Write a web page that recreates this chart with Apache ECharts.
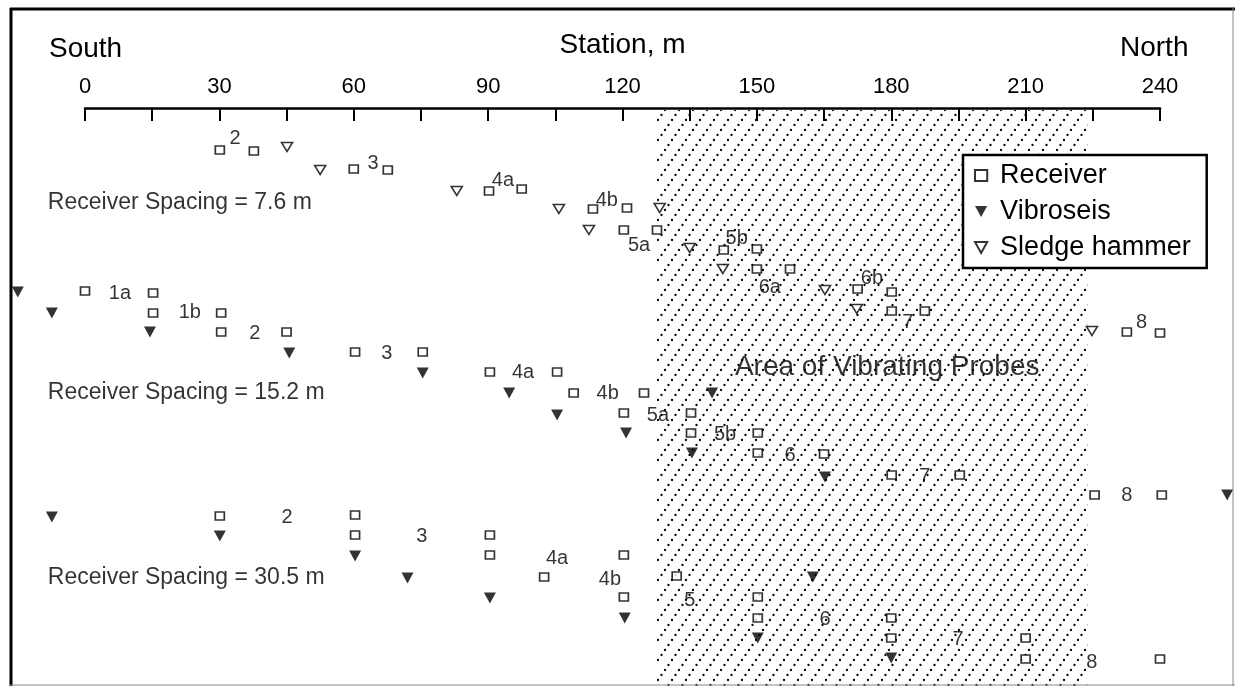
<!DOCTYPE html>
<html><head><meta charset="utf-8">
<script src="https://cdn.jsdelivr.net/npm/echarts@6/dist/echarts.min.js"></script>
<style>html,body{margin:0;padding:0;background:#fff}#c{width:1235px;height:686px}</style>
</head><body><div id="c"></div>
<script>
// ---- axis ----
const stationMin = 0, stationMax = 240, tickStep = 15, labelStep = 30;
const rowMax = 28.9; // schematic row units (vertical offsets of shot gathers)

// ---- Receiver spacing 7.6 m : [station m, row] ----
const receivers76 = [[30.1,2.1],[37.7,2.15],[60,3.05],[67.6,3.1],[90.2,4.15],[97.5,4.05],[113.4,5.05],[121,5.0],
  [120.3,6.1],[127.7,6.1],[142.6,7.1],[150,7.05],[150,8.05],[157.4,8.05],[172.5,9.05],[180.1,9.2],
  [180.1,10.15],[187.5,10.15],[232.6,11.2],[240,11.25]];
const sledge76 = [[45.1,1.95],[52.5,3.1],[83,4.15],[105.8,5.05],[128.3,5.0],[112.5,6.1],[135,7.0],[142.4,8.05],
  [165.2,9.1],[172.3,10.05],[224.8,11.15]];
const labels76 = [[33.5,1.5,'2'],[64.3,2.75,'3'],[93.3,3.6,'4a'],[116.5,4.6,'4b'],[123.7,6.85,'5a'],[145.5,6.5,'5b'],
  [152.9,8.95,'6a'],[175.7,8.5,'6b'],[183.7,10.7,'7'],[235.9,10.7,'8']];

// ---- Receiver spacing 15.2 m ----
const receivers152 = [[0,9.15],[15.2,9.25],[15.2,10.25],[30.4,10.25],[30.4,11.2],[45,11.2],[60.3,12.2],[75.4,12.2],
  [90.4,13.2],[105.4,13.2],[109.1,14.25],[124.8,14.25],[120.3,15.25],[135.3,15.25],[135.3,16.25],[150.2,16.25],
  [150.2,17.25],[165,17.3],[180.1,18.35],[195.3,18.35],[225.4,19.35],[240.4,19.35]];
const vibro152 = [[-15,9.2],[-7.4,10.25],[14.5,11.2],[45.6,12.25],[75.4,13.25],[94.7,14.25],[140,14.25],[105.4,15.35],
  [120.8,16.25],[135.5,17.25],[165.2,18.45],[255,19.35]];
const labels152 = [[7.8,9.25,'1a'],[23.4,10.2,'1b'],[37.9,11.25,'2'],[67.4,12.25,'3'],[97.8,13.2,'4a'],[116.7,14.25,'4b'],
  [127.9,15.35,'5a'],[142.9,16.3,'5b'],[157.4,17.35,'6'],[187.5,18.4,'7'],[232.6,19.35,'8']];

// ---- Receiver spacing 30.5 m ----
const receivers305 = [[30.1,20.4],[60.3,20.35],[60.3,21.35],[90.4,21.35],[90.4,22.35],[120.3,22.35],[102.5,23.45],
  [132.1,23.4],[120.3,24.45],[150.2,24.45],[150.2,25.5],[180,25.5],[180,26.5],[210,26.5],[210,27.55],[240,27.55]];
const vibro305 = [[-7.4,20.45],[30.1,21.4],[60.3,22.4],[72,23.5],[162.5,23.45],[90.4,24.5],[120.5,25.5],[150.2,26.5],[180,27.5]];
const labels305 = [[45.1,20.45,'2'],[75.2,21.4,'3'],[105.4,22.5,'4a'],[117.2,23.55,'4b'],[135,24.6,'5'],
  [165.2,25.55,'6'],[194.9,26.55,'7'],[224.8,27.7,'8']];

// ---- annotations ----
const spacingNotes = ['Receiver Spacing = 7.6 m','Receiver Spacing = 15.2 m','Receiver Spacing = 30.5 m'];
const spacingNoteAnchors = [[-8.3,4.75],[-8.3,14.25],[-8.3,23.5]];
const probeAreaText = 'Area of Vibrating Probes';
const probeAreaAnchor = [145.1,12.95];
const probeAreaStations = [127.7,223.8];

const FONT = "'Liberation Sans', Arial, Helvetica, sans-serif";
const SQ = 'path://M0,0H10V9H0Z';
const TRI = 'path://M0,0L10,0L5,9Z';

// hatch pattern: dotted diagonal lines
function makeHatch(){
  const W = 14, H = 20;
  const c = document.createElement('canvas'); c.width = W; c.height = H;
  const g = c.getContext('2d'); g.fillStyle = '#000';
  const dot = (x, y) => { g.beginPath(); g.arc(x, y, 1.15, 0, Math.PI*2); g.fill(); };
  const n = 4;
  for (let i = 0; i < n; i++){
    const t = i / n;
    dot(t * W, H - t * H);
  }
  dot(W, 0); dot(0, 0); dot(W, H);
  return c;
}

const allLabels = labels76.concat(labels152, labels305).map(d => ({value:[d[0], d[1]], name:d[2]}));
const noteData = spacingNotes.map((t,i) => ({value: spacingNoteAnchors[i], name: t}));

const chart = echarts.init(document.getElementById('c'), null, {renderer:'canvas'});
chart.setOption({
  animation: false,
  backgroundColor: '#fff',
  textStyle: {fontFamily: FONT, color:'#000'},
  grid: {left: 85, right: 75, top: 108, bottom: 0, containLabel: false},
  xAxis: {
    type: 'value', position: 'top', min: stationMin, max: stationMax, interval: tickStep,
    name: 'Station, m', nameLocation: 'middle', nameGap: 49,
    nameTextStyle: {fontSize: 28, color: '#000', fontFamily: FONT},
    axisLine: {show: true, onZero: false, lineStyle: {color:'#000', width: 2.5}},
    axisTick: {show: true, inside: true, length: 13, lineStyle: {color:'#000', width: 2}},
    axisLabel: {fontSize: 22, color:'#000', margin: 10, fontFamily: FONT,
      formatter: v => (v % labelStep === 0 ? String(v) : '')},
    splitLine: {show: false}
  },
  yAxis: {type: 'value', inverse: true, min: 0, max: rowMax, show: false},
  legend: {
    data: ['Receiver','Vibroseis','Sledge hammer'], orient: 'vertical', left: 963, top: 155,
    padding: [7, 16, 7, 11], itemGap: 9, itemWidth: 28, itemHeight: 11,
    backgroundColor: '#fff', borderColor: '#000', borderWidth: 2.5, selectedMode: false,
    textStyle: {fontSize: 27, color:'#000', fontFamily: FONT}
  },
  graphic: [
    {type:'text', left: 49, top: 35, style:{text:'South', font:'28px ' + FONT, fill:'#000'}},
    {type:'text', left: 1120, top: 34, style:{text:'North', font:'28px ' + FONT, fill:'#000'}},
    {type:'line', shape:{x1:10, y1:9, x2:1235, y2:9}, style:{stroke:'#000', lineWidth:3}, z:100},
    {type:'line', shape:{x1:11, y1:8, x2:11, y2:686}, style:{stroke:'#000', lineWidth:3}, z:100},
    {type:'line', shape:{x1:1233, y1:8, x2:1233, y2:686}, style:{stroke:'#888', lineWidth:1}, z:100},
    {type:'line', shape:{x1:10, y1:685, x2:1235, y2:685}, style:{stroke:'#888', lineWidth:1}, z:100}
  ],
  series: [
    {
      type: 'scatter', name: 'hatch', data: [], z: 1, silent: true,
      markArea: {silent: true, itemStyle: {color: {image: makeHatch(), repeat: 'repeat'}},
        data: [[{xAxis: probeAreaStations[0], yAxis: 0.1}, {xAxis: probeAreaStations[1], yAxis: rowMax}]]}
    },
    {
      type: 'scatter', name: 'Receiver', symbol: SQ, symbolSize: [9, 8], clip: false, z: 3,
      itemStyle: {color:'#fff', borderColor:'#000', borderWidth: 1.6},
      data: receivers76.concat(receivers152, receivers305)
    },
    {
      type: 'scatter', name: 'Vibroseis', symbol: TRI, symbolSize: [12, 11], clip: false, z: 3,
      itemStyle: {color:'#000', borderColor:'#000', borderWidth: 0},
      data: vibro152.concat(vibro305)
    },
    {
      type: 'scatter', name: 'Sledge hammer', symbol: TRI, symbolSize: [11, 9], clip: false, z: 3,
      itemStyle: {color:'#fff', borderColor:'#000', borderWidth: 1.6},
      data: sledge76
    },
    {
      type: 'scatter', name: 'labels', symbolSize: 1, clip: false, z: 4, silent: true,
      itemStyle: {color: 'rgba(0,0,0,0)'},
      label: {show: true, position: 'inside', formatter: '{b}', fontSize: 20, color:'#000', fontFamily: FONT},
      data: allLabels
    },
    {
      type: 'scatter', name: 'notes', symbolSize: 1, clip: false, z: 4, silent: true,
      itemStyle: {color: 'rgba(0,0,0,0)'},
      label: {show: true, position: 'inside', align: 'left', formatter: '{b}', fontSize: 23, color:'#000', fontFamily: FONT},
      data: noteData.concat([{value: probeAreaAnchor, name: probeAreaText, label: {fontSize: 28}}])
    }
  ]
});
</script></body></html>
